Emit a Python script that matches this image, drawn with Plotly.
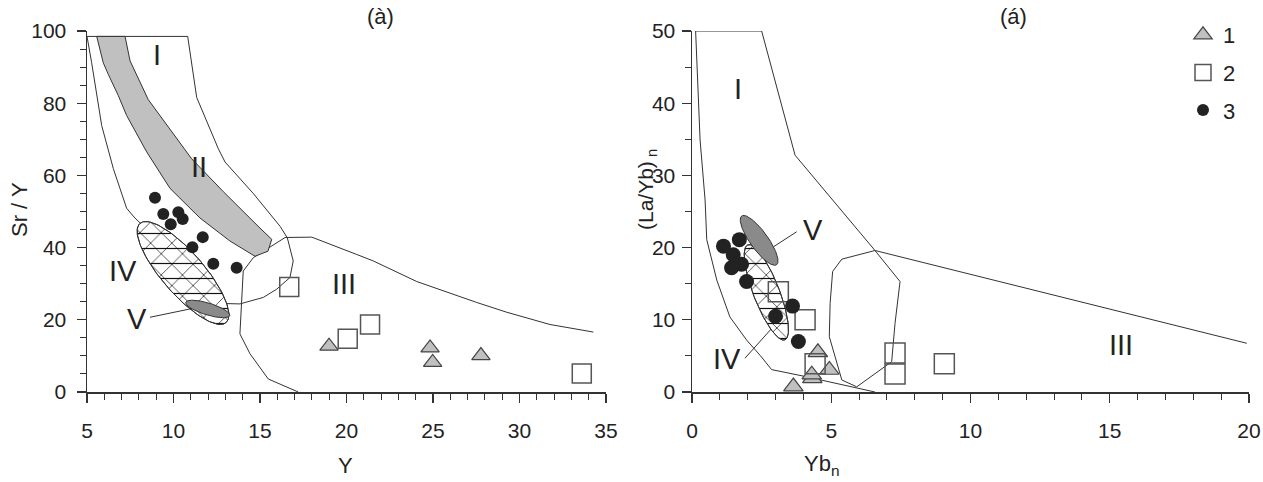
import numpy as np
import plotly.graph_objects as go

# ---------------- Panel (à): Y vs Sr/Y ----------------
a_tri_x = [18.99, 24.83, 24.98, 27.77]
a_tri_y = [12.7, 12.2, 8.2, 10.1]
a_sq_x = [16.69, 20.07, 21.36, 33.6]
a_sq_y = [29.1, 14.75, 18.7, 5.1]
a_dot_x = [8.93, 9.41, 10.28, 10.53, 9.84, 11.69, 11.09, 12.30, 13.65]
a_dot_y = [53.8, 49.3, 49.8, 47.9, 46.5, 42.9, 40.1, 35.5, 34.4]

# field I outline (incl. lower bulb)
a_f1_x = [12.98, 13.84, 15.19, 15.97, 16.73, 16.92, 16.58, 16.16, 14.61, 12.98, 12.59, 11.34,
          10.82, 5.0, 5.27, 5.85, 6.52, 7.29, 7.77, 12.98]
a_f1_y = [24.5, 24.4, 26.2, 28.5, 31.7, 36.3, 42.7, 45.9, 55.0, 63.7, 67.4, 81.6,
          98.5, 98.5, 91.2, 73.8, 61.9, 50.9, 48.2, 24.5]
# field II (grey band)
a_f2_x = [5.56, 5.94, 6.23, 6.81, 7.29, 8.45, 9.80, 11.53, 13.27, 14.71,
          15.46, 15.68, 15.0, 12.88, 11.05, 8.54, 7.49, 7.20, 5.56]
a_f2_y = [98.5, 91.2, 88.0, 82.1, 76.6, 66.5, 56.4, 48.2, 41.8, 37.6,
          39.0, 42.3, 45.4, 55.5, 64.6, 81.0, 91.7, 98.5, 98.5]
# field III outline
a_f3_x = [34.27, 31.76, 29.26, 27.53, 24.06, 21.55, 20.59, 17.99, 16.45,
          14.61, 14.03, 13.94, 13.84, 14.42, 15.48, 17.21]
a_f3_y = [16.6, 18.7, 22.1, 24.8, 30.6, 36.3, 38.1, 42.9, 42.8,
          37.2, 33.5, 24.4, 16.1, 10.6, 3.6, 0.0]
# ellipses: centre, half-major vector, half-minor vector (data units)
a_e4 = dict(c=(10.55, 32.97), a=(2.486, -13.74), b=(0.921, 3.76))
a_e5 = dict(c=(11.98, 23.0), a=(1.272, -1.84), b=(-0.10, -1.58))
a_v_line_x = [8.64, 10.95]
a_v_line_y = [20.7, 23.0]
a_labels = [("I", 9.05, 93.4), ("II", 11.47, 62.4), ("III", 19.86, 29.9),
            ("IV", 7.08, 33.5), ("V", 7.89, 20.3)]

# ---------------- Panel (á): Yb_n vs (La/Yb)n ----------------
b_tri_x = [4.52, 4.93, 4.32, 4.30, 3.64]
b_tri_y = [5.5, 3.05, 1.9, 2.4, 0.75]
b_sq_x = [3.10, 4.06, 4.42, 7.29, 7.29, 9.06]
b_sq_y = [13.9, 10.0, 3.9, 5.4, 2.5, 3.9]
b_dot_x = [1.13, 1.70, 1.48, 1.42, 1.78, 1.96, 3.61, 3.00, 3.82]
b_dot_y = [20.2, 21.1, 19.0, 17.2, 17.7, 15.3, 11.9, 10.5, 7.0]

b_f1_x = [5.91, 7.17, 7.29, 7.47, 6.57, 3.70, 2.50, 0.13, 0.29, 0.47, 0.53, 0.89, 1.36,
          1.96, 2.44, 2.86, 4.0, 6.57]
b_f1_y = [0.7, 4.2, 9.5, 15.3, 19.6, 32.8, 50.0, 50.0, 34.9, 26.6, 21.1, 15.5, 10.4,
          7.2, 5.1, 3.1, 2.2, 0.0]
b_f3_x = [19.92, 6.57, 5.38, 5.05, 4.96, 4.93, 5.38, 5.91]
b_f3_y = [6.75, 19.6, 18.4, 16.7, 12.3, 7.66, 1.66, 0.73]
b_e4 = dict(c=(2.67, 13.8), a=(0.665, -6.58), b=(0.435, 0.65))
b_e5 = dict(c=(2.41, 21.0), a=(0.625, -3.38), b=(0.262, 0.72))
b_iv_line_x = [1.90, 2.86]
b_iv_line_y = [4.67, 8.8]
b_v_line_x = [2.92, 3.76]
b_v_line_y = [20.1, 22.2]
b_labels = [("I", 1.65, 42.0), ("III", 15.4, 6.5), ("IV", 1.25, 4.6), ("V", 4.35, 22.5)]

legend_names = ["1", "2", "3"]

LINE = "#333333"
TXT = "#222222"
FONT = "Liberation Sans, Arial, sans-serif"


def ellipse(e, n=120):
    t = np.linspace(0, 2 * np.pi, n)
    cx, cy = e["c"]
    ax, ay = e["a"]
    bx, by = e["b"]
    return cx + ax * np.cos(t) + bx * np.sin(t), cy + ay * np.cos(t) + by * np.sin(t)


fig = go.Figure()


def line(x, y, xa, ya, w=1):
    fig.add_trace(go.Scatter(x=x, y=y, mode="lines", line=dict(color=LINE, width=w),
                             xaxis=xa, yaxis=ya, showlegend=False, hoverinfo="skip"))


def panel(xa, ya, f_lines, band, e4, e5, ptr, leg, sizes):
    for (lx, ly) in f_lines:
        line(lx, ly, xa, ya)
    if band is not None:
        fig.add_trace(go.Scatter(x=band[0], y=band[1], mode="lines", fill="toself",
                                 fillcolor="#c0c0c0", line=dict(color=LINE, width=1),
                                 xaxis=xa, yaxis=ya, showlegend=False, hoverinfo="skip"))
    ex, ey = ellipse(e4)
    fig.add_trace(go.Scatter(x=ex, y=ey, mode="lines", fill="toself", fillcolor="white",
                             fillpattern=dict(shape="x", size=15, solidity=0.09,
                                              fgcolor="#111", bgcolor="white", fgopacity=1),
                             line=dict(color=LINE, width=1),
                             xaxis=xa, yaxis=ya, showlegend=False, hoverinfo="skip"))
    fig.add_trace(go.Scatter(x=ex, y=ey, mode="lines", fill="toself", fillcolor="rgba(0,0,0,0)",
                             fillpattern=dict(shape="-", size=15, solidity=0.08,
                                              fgcolor="#111", bgcolor="rgba(0,0,0,0)", fgopacity=1),
                             line=dict(color=LINE, width=1),
                             xaxis=xa, yaxis=ya, showlegend=False, hoverinfo="skip"))
    ex, ey = ellipse(e5)
    fig.add_trace(go.Scatter(x=ex, y=ey, mode="lines", fill="toself", fillcolor="#8a8a8a",
                             line=dict(color=LINE, width=1),
                             xaxis=xa, yaxis=ya, showlegend=False, hoverinfo="skip"))
    (tx, ty), (sx, sy), (dx, dy) = ptr
    st, ss, sd = sizes
    fig.add_trace(go.Scatter(x=tx, y=ty, mode="markers", name=legend_names[0],
                             legendgroup="g1", showlegend=leg,
                             marker=dict(symbol="triangle-up", size=st, color="#c0c0c0",
                                         line=dict(color="#444", width=1.2)),
                             xaxis=xa, yaxis=ya))
    fig.add_trace(go.Scatter(x=sx, y=sy, mode="markers", name=legend_names[1],
                             legendgroup="g2", showlegend=leg,
                             marker=dict(symbol="square-open", size=ss, color="#555",
                                         line=dict(color="#555", width=1.5)),
                             xaxis=xa, yaxis=ya))
    fig.add_trace(go.Scatter(x=dx, y=dy, mode="markers", name=legend_names[2],
                             legendgroup="g3", showlegend=leg,
                             marker=dict(symbol="circle", size=sd, color="#222"),
                             xaxis=xa, yaxis=ya))


panel("x", "y", [(a_f1_x, a_f1_y), (a_f3_x, a_f3_y), (a_v_line_x, a_v_line_y)],
      (a_f2_x, a_f2_y), a_e4, a_e5,
      ((a_tri_x, a_tri_y), (a_sq_x, a_sq_y), (a_dot_x, a_dot_y)), True, (16, 19, 12))
panel("x2", "y2", [(b_f1_x, b_f1_y), (b_f3_x, b_f3_y), (b_iv_line_x, b_iv_line_y),
                   (b_v_line_x, b_v_line_y)],
      None, b_e4, b_e5,
      ((b_tri_x, b_tri_y), (b_sq_x, b_sq_y), (b_dot_x, b_dot_y)), False, (17, 20, 15))

# body margin is removed after plotting (post_script), so figure px == screen px
W, H = 1263, 482


def px(x):
    return x / W


def py(y):
    return 1 - y / H


ydom = [py(392), py(31)]


def axis(rng, dtick, minor, dom, anchor):
    return dict(range=rng, domain=dom, anchor=anchor, dtick=dtick, tick0=0,
                ticks="outside", ticklen=9, tickwidth=1.3, tickcolor=LINE,
                showline=True, linecolor=LINE, linewidth=1.5, showgrid=False, zeroline=False,
                tickfont=dict(family=FONT, size=21, color=TXT), automargin=False,
                minor=dict(dtick=minor, tick0=0, ticks="outside", ticklen=6,
                           tickwidth=1, tickcolor=LINE, showgrid=False),
                fixedrange=True)


fig.update_layout(
    width=W, height=H, margin=dict(l=0, r=0, t=0, b=0, autoexpand=False),
    plot_bgcolor="white", paper_bgcolor="white",
    xaxis=dict(**axis([5, 35], 5, 1, [px(87), px(606)], "y"), ticklabelstandoff=10),
    yaxis=dict(**axis([0, 100], 20, 5, ydom, "x"), ticklabelstandoff=6),
    xaxis2=dict(**axis([0, 20], 5, 1, [px(692), px(1249)], "y2"), ticklabelstandoff=10),
    yaxis2=dict(**axis([0, 50], 10, 5, ydom, "x2"), ticklabelstandoff=2),
    legend=dict(x=px(1183), y=py(14), xanchor="left", yanchor="top",
                font=dict(family=FONT, size=22, color=TXT), bgcolor="rgba(0,0,0,0)",
                itemwidth=30, traceorder="grouped", tracegroupgap=6),
    showlegend=True,
)

ann = []
for (t, x, y) in a_labels:
    ann.append(dict(text=t, x=x, y=y, xref="x", yref="y", showarrow=False,
                    font=dict(family=FONT, size=29, color=TXT)))
for (t, x, y) in b_labels:
    ann.append(dict(text=t, x=x, y=y, xref="x2", yref="y2", showarrow=False,
                    font=dict(family=FONT, size=29, color=TXT)))


def pann(text, x, y, size=22, angle=0):
    ann.append(dict(text=text, x=px(x), y=py(y), xref="paper", yref="paper",
                    xanchor="center", yanchor="middle",
                    showarrow=False, textangle=angle,
                    font=dict(family=FONT, size=size, color=TXT)))


pann("(à)", 380, 17)
pann("(á)", 1013, 17)
pann("Sr / Y", 19, 210, angle=-90)
pann("Y", 345, 465)
pann("(La/Yb)<sub> n</sub>", 647, 190, size=21, angle=-90)
pann("Yb<sub>n</sub>", 822, 465)
fig.update_layout(annotations=ann)

fig.write_html("out.html",
               config={"displayModeBar": False, "staticPlot": True},
               post_script="document.body.style.margin='0';"
                           "document.documentElement.style.overflow='hidden';"
                           "document.body.style.overflow='hidden';")
